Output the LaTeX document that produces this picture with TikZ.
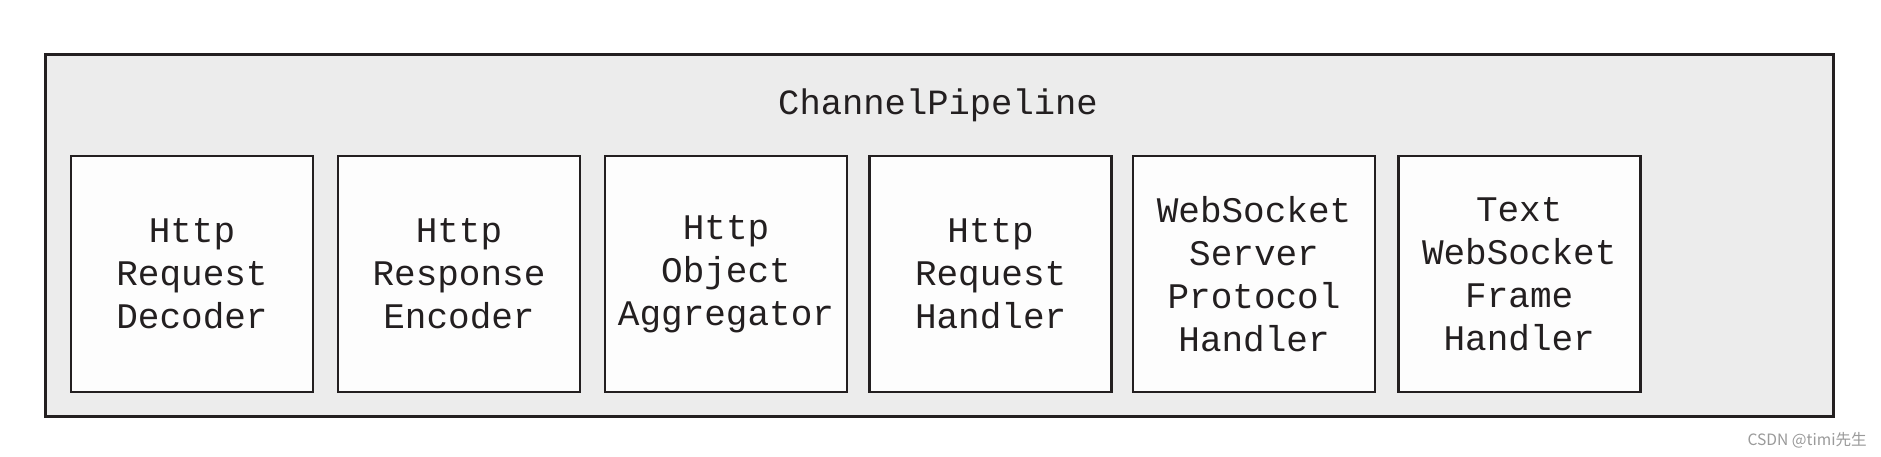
\documentclass[tikz,border=0pt]{standalone}
\usepackage{fontspec}
\setmainfont{Liberation Mono}
\newfontfamily\wmfont{Noto Sans CJK SC}
\definecolor{outerfill}{HTML}{ECECEC}
\definecolor{boxfill}{HTML}{FDFDFD}
\definecolor{ink}{HTML}{231F20}
\definecolor{wm}{HTML}{9A9A9A}
\begin{document}
\begin{tikzpicture}[x=1pt,y=-1pt,
  pipe/.style={draw=ink,fill=outerfill,line width=2.6pt,minimum width=1788pt,minimum height=362pt,inner sep=0pt},
  handler/.style={draw=ink,fill=boxfill,line width=2.6pt,minimum width=242pt,minimum height=236pt,inner sep=0pt,align=center,
    font=\fontsize{36}{43}\selectfont,text=ink},
  title/.style={font=\fontsize{35.5}{43}\selectfont,text=ink,inner sep=0pt},
  wmtext/.style={font=\wmfont\fontsize{15.6}{18}\selectfont,text=wm,inner sep=0pt}]
\useasboundingbox[fill=white] (0,0) rectangle (1881,456);
\node[pipe] (pipeline) at (939.6,235.2) {};
\node[title] (ptitle) at (938,105.5) {ChannelPipeline};
\node[handler] (h1) at (192,274) {Http\\Request\\Decoder};
\node[handler] (h2) at (459,274) {Http\\Response\\Encoder};
\node[handler] (h3) at (726,274) {Http\\Object\\Aggregator};
\node[handler] (h4) at (990.6,274) {Http\\Request\\Handler};
\node[handler] (h5) at (1254,274) {WebSocket\\Server\\Protocol\\Handler};
\node[handler] (h6) at (1519.2,274) {Text\\WebSocket\\Frame\\Handler};
\node[wmtext,anchor=east] (wmark) at (1867,440) {CSDN @timi先生};
\end{tikzpicture}
\end{document}
